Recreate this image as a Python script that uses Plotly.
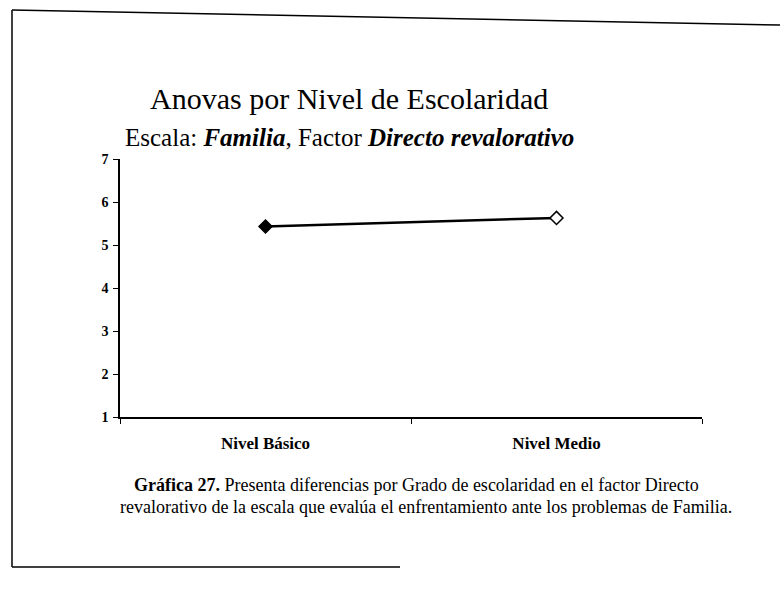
import plotly.graph_objects as go

W, H = 780, 593

niveles = ["Nivel Básico", "Nivel Medio"]
medias = [5.43, 5.63]
relleno = ["black", "white"]
y_ticks = [1, 2, 3, 4, 5, 6, 7]

serif = "Liberation Serif"
span = "<span style=\"font-family:'Liberation Serif', serif\">"

titulo = "Anovas por Nivel de Escolaridad"
subtitulo = (span + "Escala: </span>" + span + "<b><i>Familia</i></b></span>"
             + span + ", Factor </span>" + span + "<b><i>Directo revalorativo</i></b></span>")
pie_1 = "<b>Gráfica 27.</b> Presenta diferencias por Grado de escolaridad en el factor Directo"
pie_2 = "revalorativo de la escala que evalúa el enfrentamiento ante los problemas de Familia."

def px_x(v):
    return v / W

def px_y(v):
    return 1 - v / H

fig = go.Figure()
fig.add_trace(go.Scatter(
    x=niveles, y=medias, mode="lines+markers",
    line=dict(color="black", width=2.5),
    marker=dict(symbol="diamond", size=10, color=relleno,
                line=dict(color="black", width=1.5)),
    showlegend=False, hoverinfo="skip"))

fig.update_layout(
    width=W, height=H,
    margin=dict(l=0, r=0, t=0, b=0),
    paper_bgcolor="white", plot_bgcolor="white",
    template="none",
    font=dict(family=serif, color="black"),
    xaxis=dict(domain=[px_x(120), px_x(702)], range=[-0.5, 1.5],
               showgrid=False, zeroline=False, showline=True,
               linecolor="black", linewidth=1.5,
               ticks="outside", tickson="boundaries", ticklen=5,
               tickcolor="black", automargin=False,
               tickfont=dict(family=serif, size=17, color="black", weight="bold"),
               ticktext=niveles, tickvals=niveles, ticklabelstandoff=10),
    yaxis=dict(domain=[px_y(417), px_y(159)], range=[1, 7],
               tickvals=y_ticks, ticktext=[str(t) for t in y_ticks],
               showgrid=False, zeroline=False,
               showline=True, linecolor="black", linewidth=1.5,
               ticks="outside", ticklen=5, tickcolor="black",
               automargin=False,
               tickfont=dict(family=serif, size=14, color="black", weight="bold"),
               ticklabelstandoff=2),
)

fig.add_annotation(x=px_x(349), y=px_y(80), xref="paper", yref="paper",
                   text=titulo, showarrow=False,
                   font=dict(family=serif, size=30, color="black"))
fig.add_annotation(x=px_x(349), y=px_y(122), xref="paper", yref="paper",
                   text=subtitulo, showarrow=False,
                   font=dict(family=serif, size=25, color="black"))
fig.add_annotation(x=px_x(416), y=px_y(497), xref="paper", yref="paper",
                   text=pie_1, showarrow=False,
                   font=dict(family=serif, size=18, color="black"))
fig.add_annotation(x=px_x(426), y=px_y(519), xref="paper", yref="paper",
                   text=pie_2, showarrow=False,
                   font=dict(family=serif, size=18, color="black"))

# marco de la página escaneada
marco = [(12, 10, 780, 25), (12, 10, 12, 567), (12, 567, 400, 567)]
for x0, y0, x1, y1 in marco:
    fig.add_shape(type="line", xref="paper", yref="paper",
                  x0=px_x(x0), y0=px_y(y0), x1=px_x(x1), y1=px_y(y1),
                  line=dict(color="black", width=1.5))

fig.write_html("out.html", config={"displayModeBar": False},
               post_script="document.body.style.margin='0';")
